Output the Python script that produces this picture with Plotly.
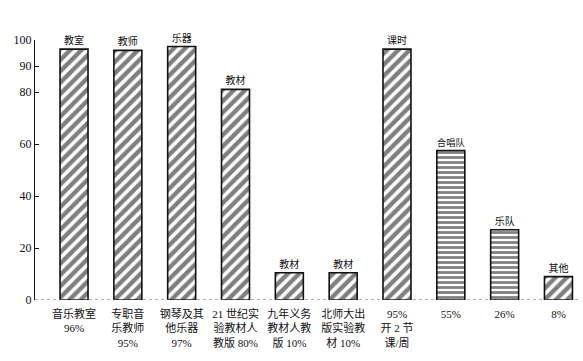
import plotly.graph_objects as go

categories = [
    "音乐教室<br>96%",
    "专职音<br>乐教师<br>95%",
    "钢琴及其<br>他乐器<br>97%",
    "21 世纪实<br>验教材人<br>教版 80%",
    "九年义务<br>教材人教<br>版 10%",
    "北师大出<br>版实验教<br>材 10%",
    "95%<br>开 2 节<br>课/周",
    "55%",
    "26%",
    "8%",
]
top_labels = ["教室", "教师", "乐器", "教材", "教材", "教材", "课时", "合唱队", "乐队", "其他"]
values = [96.5, 96, 97.5, 81, 10.5, 10.5, 96.5, 57.5, 27, 9]
hatch = ["/", "/", "/", "/", "/", "/", "/", "-", "-", "/"]
y_ticks = [0, 20, 40, 60, 80, 90, 100]

FONT = "Liberation Serif, Noto Sans CJK SC, serif"
x = list(range(len(categories)))

fig = go.Figure()
fig.add_trace(go.Bar(
    x=x, y=values, width=0.52,
    marker=dict(
        color="white",
        line=dict(color="#111", width=1.6),
        pattern=dict(shape=hatch, fgcolor="#000", bgcolor="white",
                     size=[8, 8, 8, 8, 8, 8, 8, 5, 5, 8], solidity=0.55),
    ),
    text=top_labels, textposition="outside", cliponaxis=False,
    textfont=dict(family=FONT, size=10, color="#111"),
    showlegend=False,
))

fig.add_shape(type="line", xref="paper", yref="y", x0=0, x1=1, y0=0, y1=0,
              line=dict(color="#666", width=1, dash="dot"))

fig.update_layout(
    width=583, height=361,
    margin=dict(l=35, r=3, t=40, b=61),
    paper_bgcolor="white", plot_bgcolor="white",
    font=dict(family=FONT, color="#111"),
    bargap=0.4,
)
fig.update_xaxes(
    range=[-0.725, 9.4], tickvals=x, ticktext=categories,
    showline=False, showgrid=False, zeroline=False, ticks="",
    tickfont=dict(family=FONT, size=11, color="#111"),
    ticklabelstandoff=6,
    automargin=False,
)
fig.update_yaxes(
    range=[0, 100], tickvals=y_ticks, showgrid=False, zeroline=False,
    showline=True, linecolor="#111", linewidth=1.2,
    ticks="inside", ticklen=4, tickcolor="#111",
    tickfont=dict(family=FONT, size=12, color="#111"),
    automargin=False,
)

fig.write_html("out.html", config={"displayModeBar": False},
               post_script="document.body.style.margin='0';")
